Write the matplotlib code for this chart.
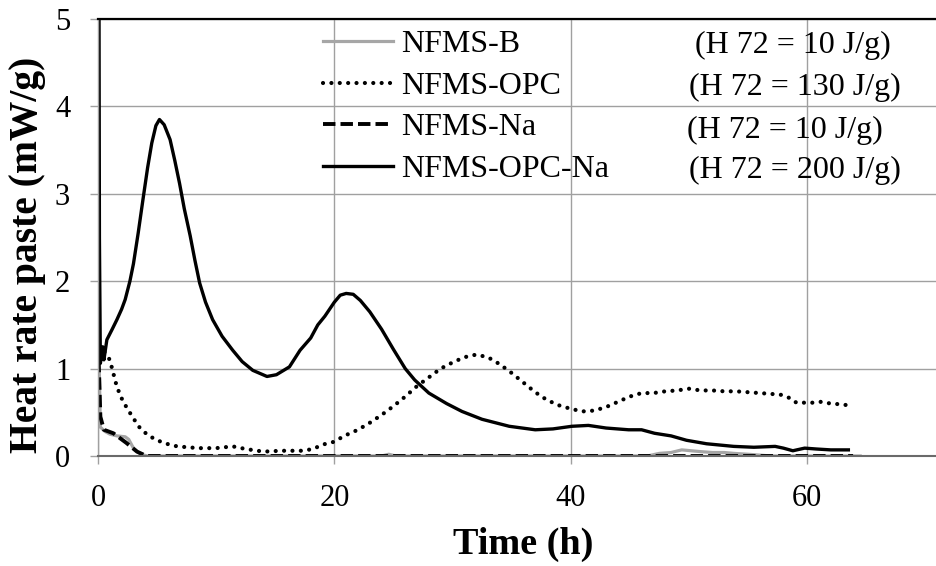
import matplotlib
matplotlib.use("Agg")
import matplotlib.pyplot as plt

plt.rcParams['font.family'] = ['Liberation Serif', 'DejaVu Serif']

# Heat flow curves, time in hours and heat rate in mW/g
t_b = [0, 0.05, 0.2, 0.6, 1.0, 1.6, 2.3, 2.6, 3.0, 3.6, 4.2, 24.0, 24.6, 25.2, 46.5,
       47.5, 48.5, 49.4, 50.2, 51.0, 52.0, 53.0, 53.8, 55.0, 56.0, 57.0, 64.5]
q_b = [1.45, 1.4, 0.33, 0.28, 0.25, 0.23, 0.22, 0.19, 0.09, 0.02, 0.0, 0.0, 0.02, 0.0, 0.0,
       0.03, 0.04, 0.07, 0.06, 0.05, 0.04, 0.04, 0.03, 0.02, 0.01, 0.0, 0.0]

t_opc = [0, 0.5, 1.0, 1.6, 2.0, 2.4, 3.0, 3.5, 4.2, 5.0, 5.8, 6.7, 8.5, 10.0, 11.4, 12.5,
         14.0, 15.5, 17.3, 18.2, 19.0, 19.9, 21.0, 22.0, 23.0, 24.0, 25.0, 26.0, 27.0,
         28.0, 29.0, 30.0, 31.0, 32.0, 33.0, 34.0, 35.0, 36.0, 37.0, 38.0, 39.0, 40.0,
         41.0, 42.0, 43.0, 44.0, 45.0, 46.0, 47.0, 48.0, 49.0, 50.0, 51.0, 52.0, 53.0,
         54.0, 55.0, 56.0, 57.0, 57.8, 58.6, 59.1, 60.5, 61.2, 62.0, 63.0, 63.9]
q_opc = [1.25, 1.2, 1.1, 0.79, 0.66, 0.56, 0.43, 0.33, 0.24, 0.18, 0.14, 0.11, 0.09, 0.09,
         0.11, 0.08, 0.05, 0.06, 0.06, 0.08, 0.13, 0.16, 0.24, 0.3, 0.38, 0.47, 0.57,
         0.68, 0.8, 0.9, 1.0, 1.07, 1.13, 1.16, 1.13, 1.05, 0.95, 0.84, 0.73, 0.64, 0.58,
         0.54, 0.51, 0.52, 0.56, 0.62, 0.68, 0.72, 0.72, 0.74, 0.75, 0.77, 0.75, 0.75,
         0.74, 0.74, 0.73, 0.72, 0.71, 0.70, 0.66, 0.61, 0.61, 0.62, 0.6, 0.59, 0.57]

t_na = [0, 0.1, 0.2, 0.5, 1.3, 2.4, 3.3, 4.1, 63.9]
q_na = [1.3, 0.9, 0.45, 0.3, 0.26, 0.15, 0.05, 0.0, 0.0]

t_opc_na = [0, 0.05, 0.12, 0.2, 0.4, 0.5, 0.75, 1.2, 1.6, 2.0, 2.3, 2.7, 3.0, 3.4, 3.8,
            4.2, 4.55, 4.9, 5.2, 5.6, 6.1, 6.5, 6.9, 7.3, 7.8, 8.2, 8.6, 9.1, 9.7, 10.5,
            11.4, 12.2, 13.1, 14.3, 15.1, 16.2, 17.1, 18.0, 18.6, 19.2, 20.0, 20.5, 21.0,
            21.6, 22.2, 23.0, 24.0, 25.0, 26.0, 26.8, 28.0, 29.5, 30.8, 32.5, 34.8, 37.0,
            38.5, 40.1, 41.5, 43.0, 44.9, 46.0, 47.1, 48.5, 49.8, 51.5, 53.8, 55.5, 57.3,
            58.0, 58.8, 59.8, 60.8, 62.0, 63.5]
q_opc_na = [1.3, 8.0, 2.5, 1.06, 1.25, 1.1, 1.33, 1.45, 1.56, 1.68, 1.79, 2.0, 2.2, 2.55,
            2.93, 3.3, 3.58, 3.78, 3.85, 3.79, 3.62, 3.38, 3.12, 2.83, 2.52, 2.24, 1.98,
            1.76, 1.56, 1.37, 1.21, 1.08, 0.98, 0.91, 0.93, 1.02, 1.21, 1.35, 1.5, 1.6,
            1.76, 1.84, 1.86, 1.85, 1.78, 1.65, 1.45, 1.22, 1.0, 0.87, 0.72, 0.6, 0.51,
            0.42, 0.34, 0.3, 0.31, 0.34, 0.35, 0.32, 0.3, 0.3, 0.26, 0.23, 0.18, 0.14, 0.11,
            0.1, 0.11, 0.09, 0.06, 0.09, 0.08, 0.07, 0.07]

series_names = ['NFMS-B', 'NFMS-OPC', 'NFMS-Na', 'NFMS-OPC-Na']
h72_labels = ['(H 72 = 10 J/g)', '(H 72 = 130 J/g)', '(H 72 = 10 J/g)', '(H 72 = 200 J/g)']

W, H = 937, 566
fig = plt.figure(figsize=(W / 100, H / 100), dpi=100)
ax = fig.add_axes([98 / W, (H - 456) / H, (W - 98) / W, (456 - 19) / H])

ax.plot(t_b, q_b, color='#a6a6a6', lw=2.3, label=series_names[0], solid_joinstyle='round')
ax.plot(t_opc, q_opc, color='black', lw=3.0, linestyle=(0, (0.01, 2.0)),
        dash_capstyle='round', label=series_names[1])
ax.plot(t_na, q_na, color='black', lw=2.8, linestyle=(0, (3.2, 1.3)), label=series_names[2])
ax.plot(t_opc_na, q_opc_na, color='black', lw=2.4, label=series_names[3],
        solid_joinstyle='round')

ax.set_xlim(0, 71)
ax.set_ylim(0, 5)
ax.set_xticks([0, 20, 40, 60])
ax.set_yticks([0, 1, 2, 3, 4, 5])

ax.grid(True, color='#a0a0a0', lw=1.0)
ax.set_axisbelow(True)
ax.spines['right'].set_visible(False)
ax.spines['top'].set_color('black')
ax.spines['top'].set_linewidth(1.6)
ax.spines['left'].set_color('#a0a0a0')
ax.spines['left'].set_linewidth(1.0)
ax.spines['bottom'].set_color('#6a6a6a')
ax.spines['bottom'].set_linewidth(1.5)
ax.tick_params(axis='both', direction='out', length=6, width=1.0, color='#a0a0a0',
               labelsize=22, pad=14)

leg = ax.legend(loc='upper left', bbox_to_anchor=(323 / W, 1 - 30 / H),
                bbox_transform=fig.transFigure, frameon=False, fontsize=23,
                handlelength=2.2, handletextpad=0.25, labelspacing=0.38,
                borderpad=0, borderaxespad=0)

h72_x = [695, 689, 687, 689]
h72_base = [53, 95, 138, 178]
for lbl, px, py in zip(h72_labels, h72_x, h72_base):
    fig.text(px / W, 1 - py / H, lbl, fontsize=23, va='baseline', ha='left')

fig.text(28 / W, 1 - 255 / H, 'Heat rate paste (mW/g)', rotation=90, fontsize=28.5,
         fontweight='bold', ha='center', va='center')
fig.text(523 / W, 1 - 544 / H, 'Time (h)', fontsize=27.5, fontweight='bold',
         ha='center', va='center')

fig.savefig('out.png', dpi=100)
